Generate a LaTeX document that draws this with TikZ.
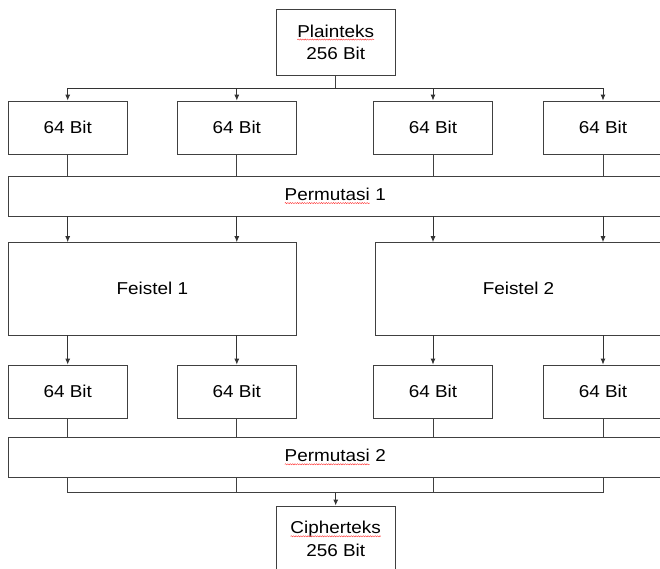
\documentclass[tikz,border=0pt]{standalone}
\usepackage{fontspec}
\setmainfont[FakeStretch=1.1]{Liberation Sans}
\usepackage{tikz}
\usetikzlibrary{positioning, arrows.meta, decorations.pathmorphing}
\tikzstyle{block} = [rectangle, minimum width=118.6pt, minimum height=53.3pt, inner sep=0pt, align=center, draw=black!75, line width=0.9pt]
\tikzstyle{io} = [block, minimum width=119.3pt, minimum height=66pt]
\tikzstyle{perm} = [block, minimum width=653.6pt, minimum height=40pt]
\tikzstyle{feistel} = [block, minimum width=288pt, minimum height=92.3pt]
\tikzstyle{arrow} = [draw=black!80, line width=0.9pt, -{Latex[length=6pt,width=5pt]}]
\tikzstyle{link} = [draw=black!75, line width=0.9pt]
\tikzstyle{word} = [draw=none, minimum width=0pt, minimum height=0pt, inner sep=0pt, outer sep=0pt]
\newcommand{\typo}[1]{\tikz[baseline=(w.base)]{\node[word] (w) {#1};
  \draw[red!80, line width=0.4pt, decorate, decoration={snake, amplitude=0.6pt, segment length=2.4pt}]
    ([yshift=-2.5pt]w.base west) -- ([yshift=-2.5pt]w.base east);}}

\begin{document}
\begin{tikzpicture}[x=1pt, y=-1pt, font=\fontsize{17.2}{22.7}\selectfont]
    \useasboundingbox (0,0) rectangle (660,569);
    \clip (0,0) rectangle (660,569);
    % Nodes
    \node (plain) [io] at (335.7,42.3) {\typo{Plainteks}\\256 Bit};
    \node (b1) [block] at (67.7,127.7) {64 Bit};
    \node (b2) [block] at (236.8,127.7) {64 Bit};
    \node (b3) [block] at (433,127.7) {64 Bit};
    \node (b4) [block] at (603,127.7) {64 Bit};
    \node (perm1) [perm] at (335.2,196) {\typo{Permutasi} 1};
    \node (feistel1) [feistel] at (152.4,288.8) {Feistel 1};
    \node (feistel2) [feistel, minimum width=287pt] at (518.5,288.8) {Feistel 2};
    \node (c1) [block] at (67.7,391.7) {64 Bit};
    \node (c2) [block] at (236.8,391.7) {64 Bit};
    \node (c3) [block] at (433,391.7) {64 Bit};
    \node (c4) [block] at (603,391.7) {64 Bit};
    \node (perm2) [perm] at (335.2,457.2) {\typo{Permutasi} 2};
    \node (cipher) [io] at (335.7,539) {\typo{Cipherteks}\\256 Bit};
    \coordinate (split) at (335.7,88.7);
    \coordinate (merge) at (335.7,492.7);
    % Arrows
    \draw [link] (plain) -- (split);
    \foreach \b in {b1,b2,b3,b4} {
        \draw [arrow] (split) -| (\b);
        \draw [link] (\b) -- (\b |- perm1.north);
    }
    \draw [arrow] (b1 |- perm1.south) -- (b1 |- feistel1.north);
    \draw [arrow] (b2 |- perm1.south) -- (b2 |- feistel1.north);
    \draw [arrow] (b3 |- perm1.south) -- (b3 |- feistel2.north);
    \draw [arrow] (b4 |- perm1.south) -- (b4 |- feistel2.north);
    \draw [arrow] (c1 |- feistel1.south) -- (c1);
    \draw [arrow] (c2 |- feistel1.south) -- (c2);
    \draw [arrow] (c3 |- feistel2.south) -- (c3);
    \draw [arrow] (c4 |- feistel2.south) -- (c4);
    \foreach \c in {c1,c2,c3,c4} {
        \draw [link] (\c) -- (\c |- perm2.north);
        \draw [link] (\c |- perm2.south) |- (merge);
    }
    \draw [arrow] (merge) -- (cipher);
\end{tikzpicture}
\end{document}
